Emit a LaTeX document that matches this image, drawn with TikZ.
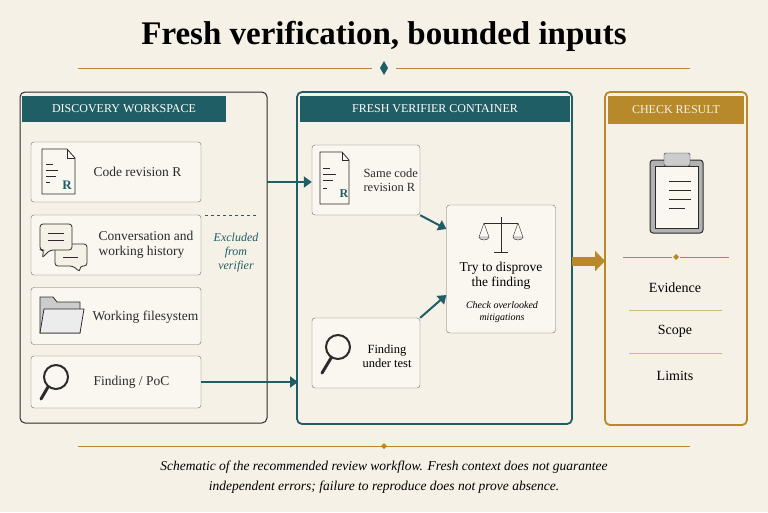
\documentclass[tikz,border=0pt]{standalone}
\usepackage{fontspec}
\setmainfont{Liberation Serif}
\usepackage{tikz}
\usetikzlibrary{shapes,arrows.meta,positioning}
\definecolor{paper}{HTML}{F6F1E6}
\definecolor{teal}{HTML}{1F5E64}
\definecolor{gold}{HTML}{B8892A}
\definecolor{ink}{HTML}{2B2B2B}
\begin{document}
\begin{tikzpicture}[x=1pt,y=-1pt]
\tikzstyle{panel}=[draw, rounded corners=5pt, line width=1pt]
\tikzstyle{card}=[draw=ink!70, rounded corners=3pt, fill=paper!60!white]
\tikzstyle{label}=[align=left, anchor=west, font=\fontsize{13.5}{15}\selectfont, text=ink]
\tikzstyle{head}=[text=white, font=\fontsize{12}{13}\selectfont]
\tikzstyle{flow}=[-{Triangle[length=8pt,width=11pt]}, line width=2.8pt, teal]
\fill[paper] (0,0) rectangle (768,512);
\useasboundingbox (0,0) rectangle (768,512);
% title
\node (title) at (384,36) {\fontsize{33}{35}\selectfont\bfseries Fresh verification, bounded inputs};
\draw[gold, line width=0.6pt] (78,68) -- (372,68) (396,68) -- (690,68);
\fill[teal] (384,61) -- (388,68) -- (384,75) -- (380,68) -- cycle;
% panels
\draw[panel, ink] (20,92) rectangle (267,423);
\fill[teal] (22,96) rectangle (226,122);
\node[head] (dwh) at (124,109) {DISCOVERY WORKSPACE};
\draw[panel, teal, line width=1.8pt] (297,92) rectangle (572,424);
\fill[teal] (300,96) rectangle (570,122);
\node[head] (fvh) at (435,109) {FRESH VERIFIER CONTAINER};
\draw[panel, gold, line width=1.8pt] (605,92) rectangle (747,425);
\fill[gold] (608,96) rectangle (744,124);
\node[head, text=paper] (crh) at (676,110) {CHECK RESULT};
% discovery cards
\node[card, minimum width=170pt, minimum height=60pt] (code) at (116,172) {};
\node[card, minimum width=170pt, minimum height=60pt] (conv) at (116,245) {};
\node[card, minimum width=170pt, minimum height=57pt] (fs) at (116,316) {};
\node[card, minimum width=170pt, minimum height=52pt] (poc) at (116,382) {};
\node[label] at (90,172) {Code revision R};
\node[label] at (95,245) {Conversation and\\working history};
\node[label] at (89,317) {Working filesystem};
\node[label] at (90,382) {Finding / PoC};
% icons
\draw[ink, fill=paper!60!white, line width=0.8pt] (42,149) -- (67,149) -- (75,158) -- (75,194) -- (42,194) -- cycle;
\draw[ink] (67,149) -- (67,158) -- (75,158);
\draw[ink] (46,164) -- (53,164) (46,170) -- (58,170) (46,176) -- (56,176) (46,182) -- (50,182);
\node[text=teal, font=\bfseries\fontsize{13}{13}\selectfont] at (67,185) {R};
\draw[ink, fill=paper, rounded corners=3pt, line width=0.8pt] (55,244) -- (87,244) -- (87,266) -- (80,266) -- (80,272) -- (73,266) -- (55,266) -- cycle;
\draw[ink, fill=paper, rounded corners=3pt, line width=0.8pt] (40,224) -- (72,224) -- (72,250) -- (50,250) -- (42,258) -- (44,250) -- (40,250) -- cycle;
\draw[ink] (48,233) -- (64,233) (48,240) -- (64,240) (63,257) -- (78,257);
\draw[ink, fill=gray!40, line width=0.8pt] (40,333) -- (40,297) -- (53,297) -- (57,302) -- (80,302) -- (80,333) -- cycle;
\draw[ink, fill=gray!15, line width=0.8pt] (40,333) -- (44,309) -- (84,309) -- (80,333) -- cycle;
\draw[ink, line width=2pt] (56,377) circle (12pt);
\draw[ink, line width=3pt, line cap=round] (48,387) -- (41,399);
% excluded
\draw[teal, dashed] (205,215) -- (258,215);
\node[align=center, text=teal, font=\itshape\fontsize{12}{14}\selectfont] (excl) at (236,253) {Excluded\\from\\verifier};
% verifier cards
\node[card, minimum width=108pt, minimum height=70pt] (same) at (366,180) {};
\node[card, minimum width=108pt, minimum height=70pt] (test) at (366,353) {};
\node[card, minimum width=109pt, minimum height=128pt] (try) at (501,269) {};
\node[label, font=\fontsize{12.5}{14}\selectfont] at (360,180) {Same code\\revision R};
\node[align=center, font=\fontsize{12.5}{14}\selectfont] at (387,356) {Finding\\under test};
\draw[ink, fill=paper!60!white, line width=0.8pt] (320,152) -- (342,152) -- (349,160) -- (349,204) -- (320,204) -- cycle;
\draw[ink] (342,152) -- (342,160) -- (349,160);
\draw[ink] (323,168) -- (330,168) (323,174) -- (336,174) (323,180) -- (333,180) (323,188) -- (327,188);
\node[text=teal, font=\bfseries\fontsize{12}{12}\selectfont] at (344,194) {R};
\draw[ink, line width=2pt] (338,347) circle (12pt);
\draw[ink, line width=3pt, line cap=round] (331,358) -- (322,373);
% scales
\draw[ink, line width=1pt] (501,217) -- (501,252) (494,252) -- (508,252) (484,223) -- (518,223);
\draw[ink] (484,223) -- (479,237) (484,223) -- (489,237) (518,223) -- (513,237) (518,223) -- (523,237);
\draw[ink, fill=gray!30] (479,237) arc (180:360:5pt and 3pt) -- cycle;
\draw[ink, fill=gray!30] (513,237) arc (180:360:5pt and 3pt) -- cycle;
\node[align=center, font=\fontsize{13.5}{15}\selectfont] at (501,276) {Try to disprove\\the finding};
\node[align=center, font=\itshape\fontsize{10}{12}\selectfont] at (502,312) {Check overlooked\\mitigations};
% result panel
\draw[ink, fill=gray!60, rounded corners=3pt, line width=1pt] (650,160) rectangle (703,233);
\draw[ink, fill=paper!60!white] (655,166) rectangle (698,228);
\draw[ink, fill=gray!40, rounded corners=1.5pt] (664,153) rectangle (690,166);
\draw[ink] (669,181) -- (691,181) (669,190) -- (691,190) (669,199) -- (691,199) (669,208) -- (685,208);
\draw[gold, line width=0.5pt] (623,257) -- (672,257) (680,257) -- (729,257);
\fill[gold] (676,254) -- (679,257) -- (676,260) -- (673,257) -- cycle;
\node[font=\fontsize{14}{16}\selectfont] (ev) at (675,288) {Evidence};
\node[font=\fontsize{14}{16}\selectfont] (sc) at (675,331) {Scope};
\node[font=\fontsize{14}{16}\selectfont] (li) at (675,376) {Limits};
\draw[gold!60, line width=0.5pt] (629,310) -- (722,310) (629,353) -- (722,353);
% connectors
\coordinate (wsout) at (267,182);
\coordinate (vcin) at (298,382);
\coordinate (vcout) at (572,261);
\coordinate (crin) at (605,261);
\draw[flow] (wsout) -- (same.west |- wsout);
\draw[flow] (poc.east) -- (vcin);
\draw[flow, line width=2pt] (same.south east) -- (try.west |- 0,229);
\draw[flow, line width=2pt] (test.north east) -- (try.west |- 0,295);
\draw[-{Triangle[length=10pt,width=20pt]}, line width=9pt, gold] (vcout) -- (crin);
% footer
\draw[gold, line width=0.6pt] (78,446) -- (690,446);
\fill[gold] (384,443) -- (387,446) -- (384,449) -- (381,446) -- cycle;
\node[align=center, font=\itshape\fontsize{13.5}{20}\selectfont] (cap) at (384,477) {Schematic of the recommended review workflow. Fresh context does not guarantee\\independent errors; failure to reproduce does not prove absence.};
\end{tikzpicture}
\end{document}
